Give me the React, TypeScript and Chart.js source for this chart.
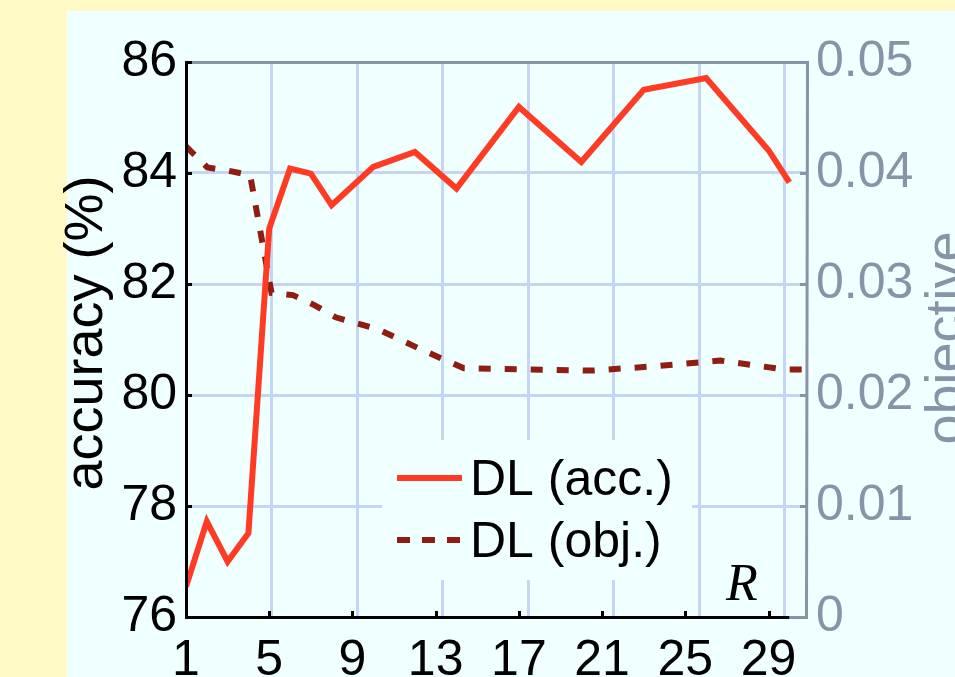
import React, { useEffect, useRef } from 'react';
import { Chart, registerables } from 'chart.js';

Chart.register(...registerables);

// ---- data ----
const accRounds = [1, 2, 3, 4, 5, 6, 7, 8, 10, 12, 14, 17, 20, 23, 26, 29, 30];
const accValues = [76.55, 77.72, 77.0, 77.51, 83.0, 84.08, 83.99, 83.42, 84.11, 84.38, 83.72, 85.19, 84.2, 85.5, 85.71, 84.41, 83.83];
const objRounds = [1, 2, 3, 4, 5, 6, 7, 8, 10, 12, 14, 17, 20, 23, 26, 29, 30];
const objValues = [0.0424, 0.0405, 0.0402, 0.0398, 0.0292, 0.029, 0.0281, 0.027, 0.0259, 0.0241, 0.0224, 0.0223, 0.0222, 0.0226, 0.0231, 0.0223, 0.0223];
const xTicks = [1, 5, 9, 13, 17, 21, 25, 29];
const accTicks = [76, 78, 80, 82, 84, 86];
const objTicks = [0, 0.01, 0.02, 0.03, 0.04, 0.05];
const seriesLabels = ['DL (acc.)', 'DL (obj.)'];
const leftTitle = 'accuracy (%)';
const rightTitle = 'objective';
const xTitle = 'R';
const headFragment = 'g';

const C = {
  yellow: '#FFF9C6',
  panel: '#F0FFFF',
  grid: '#C4D6F4',
  gray: '#8893A8',
  acc: '#FF3B24',
  obj: '#8F1D12',
};
const FONT = '"Liberation Sans", Arial, Helvetica, sans-serif';

const decor = {
  id: 'decor',
  beforeDraw(chart: any) {
    const ctx = chart.ctx;
    ctx.save();
    ctx.fillStyle = C.yellow;
    ctx.fillRect(0, 0, chart.width, chart.height);
    ctx.fillStyle = C.panel;
    ctx.fillRect(67, 11, chart.width - 67, chart.height - 11);
    ctx.fillStyle = '#000';
    ctx.font = `60px ${FONT}`;
    ctx.textBaseline = 'alphabetic';
    ctx.textAlign = 'left';
    ctx.fillText(headFragment, 168, -13);
    ctx.restore();
  },
  beforeDatasetsDraw(chart: any) {
    const ctx = chart.ctx;
    ctx.save();
    ctx.fillStyle = C.panel;
    ctx.fillRect(382, 440, 310, 140);
    ctx.restore();
  },
  afterDatasetsDraw(chart: any) {
    const ctx = chart.ctx;
    const { left, top, right, bottom } = chart.chartArea;
    const sx = chart.scales.x;
    const sy = chart.scales.y;
    const sy2 = chart.scales.y2;
    ctx.save();
    ctx.lineCap = 'butt';
    // inward tick marks
    ctx.lineWidth = 3;
    ctx.strokeStyle = '#000';
    accTicks.slice(1, -1).forEach((v) => {
      const p = Math.round(sy.getPixelForValue(v)) + 0.5;
      ctx.beginPath(); ctx.moveTo(left, p); ctx.lineTo(left + 6, p); ctx.stroke();
    });
    xTicks.slice(1).forEach((v) => {
      const p = Math.round(sx.getPixelForValue(v)) + 0.5;
      ctx.beginPath(); ctx.moveTo(p, bottom); ctx.lineTo(p, bottom - 6); ctx.stroke();
    });
    ctx.strokeStyle = C.gray;
    objTicks.slice(1, -1).forEach((v) => {
      const p = Math.round(sy2.getPixelForValue(v)) + 0.5;
      ctx.beginPath(); ctx.moveTo(right, p); ctx.lineTo(right - 6, p); ctx.stroke();
    });
    // frame
    const xEnd = sx.getPixelForValue(30);
    ctx.strokeStyle = C.gray;
    ctx.beginPath();
    ctx.moveTo(left, top + 0.5); ctx.lineTo(right + 1.5, top + 0.5);
    ctx.lineTo(right + 0.5, bottom + 0.5); ctx.lineTo(xEnd, bottom + 0.5);
    ctx.stroke();
    ctx.strokeStyle = '#000';
    ctx.beginPath();
    ctx.moveTo(left + 6, top + 0.5); ctx.lineTo(left + 0.5, top + 0.5);
    ctx.lineTo(left + 0.5, bottom + 0.5); ctx.lineTo(xEnd, bottom + 0.5);
    ctx.stroke();

    // legend
    const ds = chart.data.datasets;
    const rows = [478, 540];
    ctx.font = `50px ${FONT}`;
    ctx.textAlign = 'left';
    ctx.textBaseline = 'alphabetic';
    ds.forEach((d: any, i: number) => {
      ctx.strokeStyle = d.borderColor;
      ctx.lineWidth = 6;
      ctx.setLineDash(d.borderDash ? [13, 12] : []);
      ctx.beginPath(); ctx.moveTo(397, rows[i]); ctx.lineTo(462, rows[i]); ctx.stroke();
      ctx.setLineDash([]);
      ctx.fillStyle = '#000';
      ctx.fillText(d.label, 470, rows[i] + 17);
    });

    // x title inside plot
    ctx.font = `italic 52px "Liberation Serif", "Times New Roman", serif`;
    ctx.textAlign = 'center';
    ctx.fillStyle = '#000';
    ctx.fillText(xTitle, 742, 600);

    // axis titles
    ctx.font = `54px ${FONT}`;
    ctx.textAlign = 'center';
    ctx.save();
    ctx.translate(102, 333);
    ctx.rotate(-Math.PI / 2);
    ctx.fillStyle = '#000';
    ctx.fillText(leftTitle, 0, 0);
    ctx.restore();
    ctx.save();
    ctx.translate(963, 338);
    ctx.rotate(-Math.PI / 2);
    ctx.fillStyle = C.gray;
    ctx.fillText(rightTitle, 0, 0);
    ctx.restore();
    ctx.restore();
  },
};

export default function App() {
  const ref = useRef<HTMLCanvasElement | null>(null);
  useEffect(() => {
    if (!ref.current) return;
    const setTicks = (vals: number[]) => (s: any) => {
      s.ticks = vals.map((v) => ({ value: v }));
    };
    const chart = new Chart(ref.current, {
      type: 'line',
      data: {
        datasets: [
          {
            label: seriesLabels[0],
            data: accRounds.map((x, i) => ({ x, y: accValues[i] })),
            xAxisID: 'x',
            yAxisID: 'y',
            borderColor: C.acc,
            borderWidth: 6,
            pointRadius: 0,
            tension: 0,
            fill: false,
          },
          {
            label: seriesLabels[1],
            data: objRounds.map((x, i) => ({ x, y: objValues[i] })),
            xAxisID: 'x2',
            yAxisID: 'y2',
            borderColor: C.obj,
            borderWidth: 6,
            borderDash: [12, 14],
            borderCapStyle: 'butt',
            pointRadius: 0,
            tension: 0,
            fill: false,
          },
        ],
      },
      options: {
        animation: false,
        responsive: false,
        layout: { padding: { top: 62, left: 0, right: 0, bottom: 0 } },
        plugins: { legend: { display: false }, tooltip: { enabled: false } },
        scales: {
          x: {
            type: 'linear',
            position: 'bottom',
            min: 1,
            max: 30.8,
            afterBuildTicks: setTicks(xTicks),
            afterFit: (s: any) => { s.height = 60; },
            grid: { display: false },
            border: { display: false },
            ticks: {
              color: '#000',
              font: { family: FONT, size: 50 },
              padding: 6,
              maxRotation: 0,
              autoSkip: false,
              callback: (v: any) => String(v),
            },
          },
          x2: {
            type: 'linear',
            position: 'top',
            min: 1,
            max: 30,
            afterBuildTicks: setTicks(xTicks),
            afterFit: (s: any) => { s.height = 0; },
            grid: { color: C.grid, lineWidth: 3, drawTicks: false },
            border: { display: false },
            ticks: { display: false },
          },
          y: {
            type: 'linear',
            position: 'left',
            min: 76,
            max: 86,
            afterBuildTicks: setTicks(accTicks),
            afterFit: (s: any) => { s.width = 186; },
            grid: { color: C.grid, lineWidth: 3, drawTicks: false },
            border: { display: false },
            ticks: {
              color: '#000',
              font: { family: FONT, size: 50 },
              padding: 9,
              autoSkip: false,
              callback: (v: any) => String(v),
            },
          },
          y2: {
            type: 'linear',
            position: 'right',
            min: 0,
            max: 0.05,
            afterBuildTicks: setTicks(objTicks),
            afterFit: (s: any) => { s.width = 149; },
            grid: { display: false, drawTicks: false },
            border: { display: false },
            ticks: {
              color: C.gray,
              font: { family: FONT, size: 50 },
              padding: 10,
              autoSkip: false,
              callback: (v: any) => String(Number(Number(v).toFixed(2))),
            },
          },
        },
      },
      plugins: [decor],
    } as any);
    return () => chart.destroy();
  }, []);
  return (
    <div style={{ position: 'fixed', left: 0, top: 0, width: 955, height: 677 }}>
      <canvas ref={ref} width={955} height={677} style={{ display: 'block' }} />
    </div>
  );
}
